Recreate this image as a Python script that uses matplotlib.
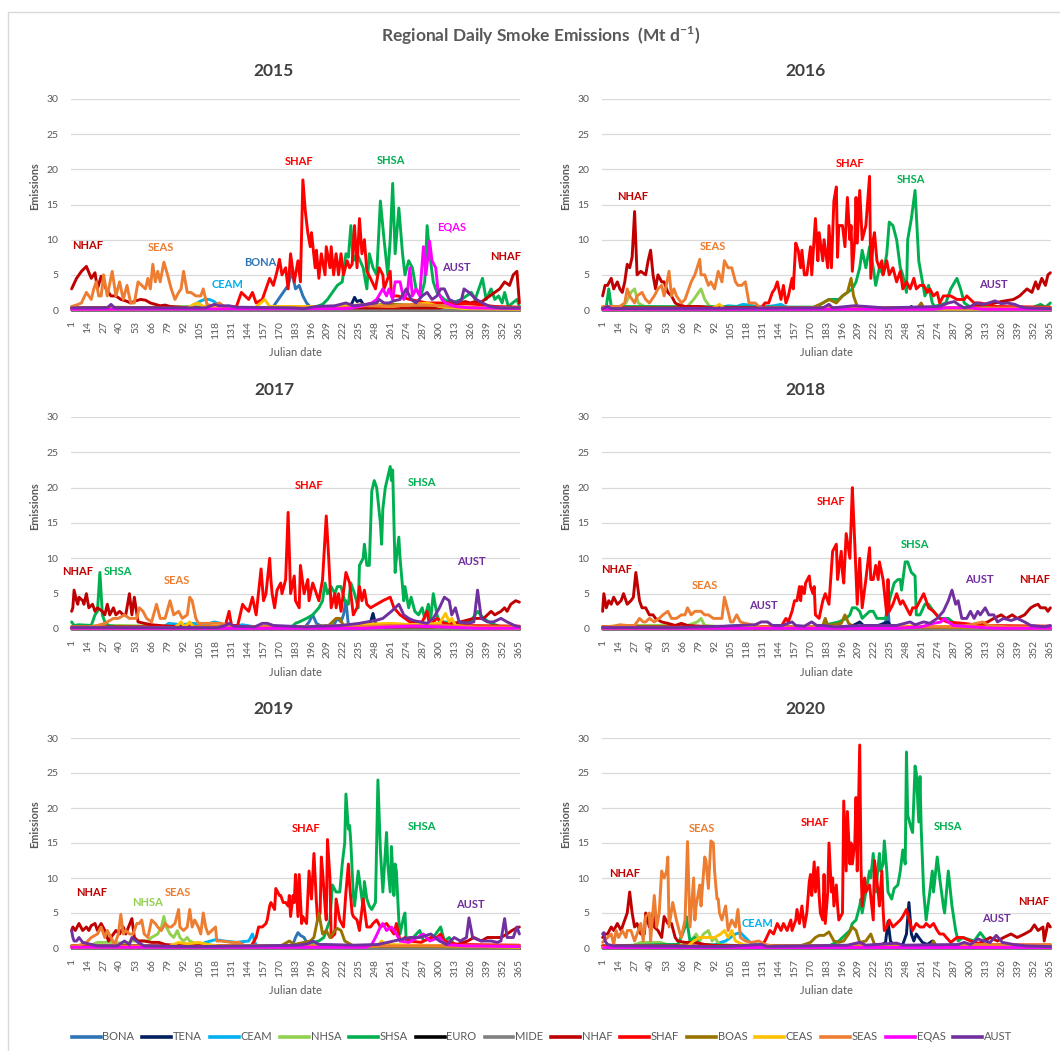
import matplotlib
matplotlib.use("Agg")
import matplotlib.pyplot as plt
from matplotlib.lines import Line2D

plt.rcParams['font.family'] = ['Lato', 'DejaVu Sans']

# ---------------- categories ----------------
NAMES = ["BONA", "TENA", "CEAM", "NHSA", "SHSA", "EURO", "MIDE",
         "NHAF", "SHAF", "BOAS", "CEAS", "SEAS", "EQAS", "AUST"]
COLORS = ["#2E75B6", "#002060", "#00B0F0", "#92D050", "#00B050", "#000000", "#808080",
          "#C00000", "#FF0000", "#997300", "#FFC000", "#ED7D31", "#FF00FF", "#7030A0"]
XTICKS = [1, 14, 27, 40, 53, 66, 79, 92, 105, 118, 131, 144, 157, 170, 183, 196, 209,
          222, 235, 248, 261, 274, 287, 300, 313, 326, 339, 352, 365]
YEARS = [2015, 2016, 2017, 2018, 2019, 2020]

# ---------------- data: (julian day, emissions) ----------------
# ---- 2015 ----
BONA_2015 = [(1,0.1),(160,0.1),(165,0.5),(169,1.5),(173,2.5),(177,3.5),(180,5.5),(183,3.0),(186,3.5),(189,2.0),(192,1.0),(196,0.3),(200,0.1),(365,0.1)]
TENA_2015 = [(1,0.05),(225,0.1),(229,1.0),(231,1.8),(233,1.2),(236,1.4),(239,0.5),(243,0.2),(365,0.05)]
CEAM_2015 = [(1,0.1),(97,0.2),(101,0.8),(105,1.2),(109,1.5),(113,1.5),(117,1.2),(121,0.5),(125,0.2),(365,0.1)]
NHSA_2015 = [(1,0.3),(40,0.4),(60,0.3),(100,0.5),(120,0.2),(365,0.1)]
SHSA_2015 = [(1,0.3),(100,0.4),(150,0.3),(200,0.5),(205,0.8),(209,1.5),(213,2.5),(217,3.5),(221,4.0),(224,8.0),(226,7.5),(228,12.0),(230,7.0),(233,8.0),(238,6.0),(241,3.0),(243,8.0),(246,6.0),(249,5.0),(252,15.5),(255,10.0),(258,5.0),(260,10.0),(262,18.0),(264,8.0),(267,14.5),(270,8.0),(272,5.0),(275,7.0),(278,6.0),(281,3.0),(285,2.0),(288,4.0),(290,12.0),(292,8.0),(295,4.0),(298,2.5),(301,2.0),(304,1.5),(310,1.0),(318,1.5),(326,2.5),(329,1.5),(335,4.5),(338,1.5),(342,3.0),(345,1.5),(348,2.0),(351,1.0),(353,2.5),(356,0.5),(363,1.5),(365,0.5)]
EURO_2015 = [(1,0.05),(365,0.05)]
MIDE_2015 = [(1,0.05),(365,0.05)]
NHAF_2015 = [(1,3.0),(5,4.5),(9,5.5),(13,6.2),(17,4.5),(20,5.3),(22,3.0),(25,4.8),(29,3.0),(33,2.0),(37,2.0),(41,1.5),(45,1.3),(49,1.0),(53,1.3),(57,1.5),(61,1.4),(65,1.0),(69,0.8),(73,0.6),(77,0.7),(81,0.5),(89,0.4),(97,0.3),(300,0.3),(305,0.5),(309,0.6),(313,0.8),(317,1.0),(321,1.2),(325,1.0),(329,1.2),(333,1.0),(337,1.5),(341,2.0),(345,2.5),(349,3.0),(353,4.0),(357,3.5),(360,5.0),(363,5.5),(365,1.0)]
SHAF_2015 = [(1,0.3),(130,0.3),(135,0.5),(139,2.5),(142,2.0),(145,1.5),(148,2.5),(151,1.0),(156,1.5),(159,3.0),(162,4.5),(165,3.5),(168,5.5),(170,7.2),(172,5.0),(175,6.0),(177,3.0),(179,8.0),(182,4.0),(185,7.0),(187,4.0),(189,18.5),(191,14.0),(193,11.0),(195,9.0),(196,11.0),(199,6.0),(200,8.5),(202,4.5),(204,8.0),(207,5.0),(208,9.0),(211,6.0),(212,9.0),(214,5.0),(216,8.0),(218,5.0),(220,8.0),(222,5.0),(225,7.0),(227,6.0),(229,6.5),(231,12.0),(233,6.0),(235,13.0),(237,8.0),(239,10.0),(241,5.5),(244,4.5),(248,3.0),(251,6.0),(254,5.0),(255,3.0),(260,5.5),(261,2.0),(266,2.0),(276,1.5),(290,1.0),(310,1.0),(330,0.8),(345,0.5),(365,0.4)]
BOAS_2015 = [(1,0.2),(150,0.3),(200,0.4),(260,0.8),(300,0.6),(330,0.3),(365,0.2)]
CEAS_2015 = [(1,0.1),(95,0.2),(100,0.8),(104,1.0),(108,0.5),(150,0.3),(158,1.5),(162,0.5),(220,0.5),(240,0.8),(260,0.5),(280,0.8),(290,1.0),(300,0.5),(320,0.2),(365,0.1)]
SEAS_2015 = [(1,0.5),(5,0.7),(9,1.0),(13,2.5),(17,1.5),(19,3.0),(21,4.0),(23,2.0),(25,2.0),(27,5.0),(30,2.0),(34,5.5),(37,2.0),(40,4.0),(43,1.5),(46,3.5),(49,1.0),(52,1.0),(55,4.0),(58,3.5),(61,3.0),(63,4.5),(65,3.0),(67,6.5),(69,4.0),(71,5.5),(73,4.0),(76,6.8),(79,5.0),(82,3.0),(85,1.5),(88,2.5),(90,3.0),(92,5.5),(95,2.5),(98,2.5),(102,2.0),(106,2.0),(108,3.0),(111,0.8),(115,0.6),(121,1.0),(125,0.5),(130,0.3),(220,0.3),(240,0.6),(260,0.5),(280,0.8),(300,0.6),(320,0.4),(365,0.3)]
EQAS_2015 = [(1,0.1),(225,0.2),(235,0.5),(245,1.0),(249,1.5),(254,3.0),(257,2.0),(259,3.0),(262,1.5),(264,4.0),(268,4.0),(271,1.5),(274,2.5),(276,6.0),(278,2.0),(281,3.0),(284,2.0),(287,9.0),(289,5.0),(292,9.8),(294,7.0),(297,6.0),(299,2.5),(302,1.5),(305,1.0),(313,0.5),(325,0.3),(365,0.2)]
AUST_2015 = [(1,0.3),(30,0.3),(33,0.8),(36,0.3),(110,0.3),(117,0.8),(121,0.6),(129,0.6),(135,0.4),(180,0.3),(190,0.2),(200,0.5),(215,0.6),(224,1.0),(230,0.6),(240,0.8),(249,1.0),(251,1.5),(255,1.0),(259,1.0),(263,1.3),(268,1.5),(273,3.0),(277,1.5),(281,1.0),(286,2.0),(290,2.5),(294,1.5),(298,2.0),(301,3.0),(304,3.0),(308,1.5),(314,1.0),(318,1.5),(320,3.0),(324,2.5),(330,1.5),(335,1.0),(341,0.5),(350,0.3),(365,0.3)]

# ---- 2016 ----
BONA_2016 = [(1,0.1),(365,0.1)]
TENA_2016 = [(1,0.05),(250,0.1),(252,0.5),(254,0.1),(365,0.05)]
CEAM_2016 = [(1,0.1),(95,0.2),(103,0.6),(110,0.5),(115,0.8),(120,0.7),(130,0.4),(140,0.6),(146,0.8),(150,0.4),(160,0.2),(365,0.1)]
NHSA_2016 = [(1,0.3),(15,0.5),(20,1.0),(24,2.5),(27,3.0),(30,1.0),(35,0.5),(50,0.4),(70,0.5),(75,1.5),(79,2.5),(81,3.0),(84,1.5),(88,0.5),(100,0.3),(365,0.1)]
SHSA_2016 = [(1,0.3),(4,0.5),(6,3.0),(8,0.5),(175,0.4),(180,1.0),(185,1.5),(193,1.5),(196,2.0),(204,3.0),(207,4.0),(210,6.0),(212,8.5),(215,6.0),(218,9.0),(221,6.0),(223,3.5),(226,6.0),(229,5.0),(232,8.0),(234,12.5),(237,12.0),(240,10.0),(243,6.0),(245,5.0),(248,2.5),(249,10.0),(252,13.0),(255,17.0),(258,7.0),(260,5.0),(263,2.0),(266,3.5),(269,1.0),(271,0.5),(280,1.0),(284,3.0),(289,4.5),(292,3.0),(295,1.0),(300,0.4),(350,0.3),(357,0.8),(361,0.4),(365,1.0)]
EURO_2016 = [(1,0.05),(365,0.05)]
MIDE_2016 = [(1,0.05),(365,0.05)]
NHAF_2016 = [(1,2.0),(3,3.5),(5,3.5),(8,4.5),(10,3.0),(13,4.0),(15,3.0),(17,2.5),(19,4.0),(21,6.5),(23,6.0),(25,7.5),(27,14.0),(29,5.0),(32,5.5),(36,5.0),(38,7.0),(40,8.5),(42,5.0),(44,3.0),(46,5.0),(49,4.0),(51,4.0),(54,2.5),(57,2.0),(60,1.0),(62,0.8),(68,0.5),(80,0.5),(90,0.3),(295,0.3),(305,0.6),(315,0.8),(325,1.2),(335,1.5),(340,2.0),(343,2.5),(346,3.0),(350,2.5),(353,4.0),(355,3.0),(358,4.5),(361,3.5),(363,5.0),(365,5.3)]
SHAF_2016 = [(1,0.3),(130,0.3),(133,1.0),(136,1.0),(139,2.5),(141,3.0),(143,4.0),(146,1.5),(148,3.5),(150,1.0),(152,2.0),(155,4.5),(156,3.0),(158,9.5),(160,8.5),(162,6.0),(163,8.5),(165,5.0),(167,5.0),(170,9.0),(171,5.0),(174,13.0),(176,7.0),(177,11.0),(180,7.0),(181,10.0),(184,6.0),(185,12.0),(187,6.0),(189,15.5),(191,17.5),(192,7.5),(193,12.0),(196,12.0),(198,9.0),(200,16.0),(202,10.0),(203,12.0),(204,5.5),(206,10.0),(207,16.0),(208,9.5),(210,17.0),(212,10.0),(215,12.0),(218,19.0),(219,4.5),(221,10.0),(222,11.0),(224,7.0),(226,6.0),(228,7.0),(229,5.0),(232,7.0),(234,5.0),(237,6.0),(240,4.0),(243,5.5),(245,3.0),(248,4.0),(251,3.0),(254,4.5),(256,3.0),(259,3.5),(262,3.5),(265,2.5),(267,3.0),(270,2.0),(273,2.5),(275,1.0),(278,2.0),(284,2.0),(289,1.5),(295,1.5),(297,2.0),(303,1.0),(308,1.0),(320,0.5),(365,0.4)]
BOAS_2016 = [(1,0.1),(170,0.2),(180,1.0),(185,1.5),(191,1.0),(196,2.0),(200,2.5),(203,4.5),(205,2.0),(208,0.5),(215,0.3),(257,0.3),(260,1.0),(262,0.3),(365,0.1)]
CEAS_2016 = [(1,0.1),(90,0.2),(96,0.8),(100,0.2),(365,0.1)]
SEAS_2016 = [(1,0.5),(15,0.5),(19,1.0),(21,3.0),(23,2.0),(27,1.0),(29,2.0),(33,2.5),(36,1.5),(39,1.0),(43,2.0),(46,3.0),(49,3.5),(51,2.0),(55,5.5),(57,2.0),(59,3.0),(61,2.0),(65,1.0),(68,1.5),(70,2.5),(73,4.0),(76,5.0),(80,7.2),(81,5.0),(84,5.0),(87,3.5),(89,4.0),(92,3.0),(95,5.5),(98,4.0),(100,7.0),(103,6.0),(106,6.0),(109,4.0),(111,3.5),(114,3.5),(117,4.0),(120,1.0),(125,1.0),(128,0.5),(131,0.3),(365,0.3)]
EQAS_2016 = [(1,0.1),(270,0.1),(280,0.3),(300,0.3),(310,0.1),(365,0.1)]
AUST_2016 = [(1,0.2),(5,0.5),(8,0.2),(180,0.3),(185,0.8),(188,0.3),(205,0.6),(215,0.5),(230,0.3),(275,0.5),(282,1.0),(287,1.2),(290,0.8),(295,0.3),(300,0.5),(305,1.0),(310,0.8),(315,1.0),(320,1.3),(325,0.9),(330,1.0),(336,0.8),(340,0.5),(345,0.3),(365,0.2)]

# ---- 2017 ----
BONA_2017 = [(1,0.1),(190,0.1),(194,1.0),(197,2.0),(200,0.8),(205,0.3),(214,0.5),(217,1.5),(220,1.0),(222,2.0),(224,4.0),(226,0.5),(230,0.1),(365,0.1)]
TENA_2017 = [(1,0.05),(240,0.1),(244,1.0),(246,2.2),(248,0.8),(252,0.2),(365,0.05)]
CEAM_2017 = [(1,0.1),(75,0.2),(80,0.8),(90,0.6),(100,0.8),(110,0.6),(117,1.0),(122,0.8),(130,0.3),(140,0.6),(150,0.3),(365,0.1)]
NHSA_2017 = [(1,0.3),(40,0.5),(70,0.4),(100,0.3),(365,0.1)]
SHSA_2017 = [(1,1.0),(3,0.5),(7,0.6),(17,0.5),(20,2.0),(22,2.5),(24,8.0),(26,2.0),(28,1.0),(31,0.5),(40,0.3),(180,0.3),(183,0.8),(186,1.0),(192,1.5),(197,2.0),(202,3.0),(205,4.0),(207,6.5),(209,5.0),(212,6.0),(215,5.0),(217,6.0),(220,6.0),(223,4.0),(226,3.5),(228,6.5),(231,5.0),(234,3.0),(235,9.0),(238,10.0),(239,12.0),(241,9.0),(243,9.0),(245,19.5),(247,21.0),(249,20.0),(252,15.0),(253,12.0),(254,17.0),(256,20.0),(258,21.5),(260,23.0),(261,21.0),(262,22.5),(264,8.0),(265,10.0),(267,13.0),(268,10.0),(271,4.0),(272,6.0),(275,3.0),(277,4.5),(280,2.5),(283,2.0),(286,3.0),(288,1.5),(291,3.5),(293,1.5),(295,5.0),(298,2.0),(300,1.0),(304,1.0),(312,0.8),(325,1.0),(331,2.5),(336,1.5),(342,0.8),(350,0.3),(365,0.3)]
EURO_2017 = [(1,0.05),(365,0.05)]
MIDE_2017 = [(1,0.05),(365,0.05)]
NHAF_2017 = [(1,2.5),(2,3.0),(3,5.5),(5,4.0),(6,3.5),(7,4.5),(10,4.0),(11,3.5),(13,5.0),(15,3.0),(18,3.5),(20,2.5),(22,3.0),(26,2.5),(28,2.0),(30,3.5),(32,2.0),(35,3.0),(37,2.0),(40,2.5),(43,2.0),(45,2.0),(48,5.0),(50,2.0),(52,4.5),(55,1.0),(60,0.8),(66,0.6),(72,0.5),(80,0.4),(95,0.3),(295,0.3),(304,0.5),(317,1.0),(328,1.5),(336,1.5),(342,2.5),(345,2.0),(350,2.5),(353,3.0),(355,2.5),(358,3.5),(362,4.0),(365,3.8)]
SHAF_2017 = [(1,0.3),(124,0.3),(126,0.5),(129,2.5),(131,0.5),(136,0.5),(140,3.5),(142,3.0),(145,2.5),(148,4.5),(151,2.0),(155,8.5),(157,4.0),(159,5.0),(162,10.0),(163,7.0),(164,5.0),(166,3.0),(168,5.5),(171,6.5),(172,5.0),(175,7.0),(177,16.5),(179,5.0),(182,7.5),(183,4.0),(186,3.0),(187,9.0),(190,5.0),(193,7.0),(194,4.0),(197,6.5),(200,5.0),(202,4.0),(205,7.0),(208,16.0),(210,10.0),(212,3.0),(215,5.0),(216,3.0),(218,5.0),(220,2.5),(224,8.0),(227,6.5),(230,2.0),(233,3.0),(235,6.0),(237,4.0),(239,5.5),(241,3.5),(244,3.0),(249,3.5),(254,4.0),(260,4.5),(263,3.0),(268,2.0),(276,1.0),(286,1.0),(290,2.5),(292,0.5),(298,1.5),(304,0.8),(315,0.5),(365,0.4)]
BOAS_2017 = [(1,0.1),(180,0.2),(210,0.5),(216,1.5),(219,1.5),(222,0.5),(260,0.5),(300,0.3),(365,0.1)]
CEAS_2017 = [(1,0.1),(85,0.2),(90,1.0),(93,0.3),(97,1.0),(100,0.3),(200,0.3),(230,0.6),(260,0.8),(280,0.6),(300,0.8),(305,2.2),(308,1.0),(310,1.5),(313,0.5),(330,0.2),(365,0.1)]
SEAS_2017 = [(1,0.3),(15,0.3),(22,0.5),(28,0.8),(35,1.5),(39,1.5),(44,2.0),(48,1.5),(54,1.5),(56,3.0),(59,2.5),(62,1.5),(66,1.0),(70,3.5),(73,1.5),(77,1.5),(81,4.0),(84,2.0),(88,2.5),(91,1.5),(95,2.0),(97,4.5),(99,4.0),(102,1.5),(104,0.8),(115,0.8),(123,0.8),(128,0.4),(135,0.3),(230,0.3),(260,0.5),(300,0.5),(330,0.3),(365,0.3)]
EQAS_2017 = [(1,0.1),(240,0.1),(260,0.3),(280,0.4),(300,0.3),(330,0.1),(365,0.1)]
AUST_2017 = [(1,0.2),(120,0.2),(126,0.5),(129,0.8),(133,0.4),(150,0.3),(156,0.8),(160,0.8),(165,0.5),(190,0.3),(220,0.5),(235,0.8),(241,1.0),(248,1.2),(254,1.5),(261,2.5),(267,3.5),(271,2.0),(275,1.5),(279,1.2),(284,1.0),(290,0.8),(295,1.5),(300,3.0),(304,4.5),(308,4.0),(310,2.0),(313,3.0),(316,1.0),(323,0.8),(328,1.0),(331,5.5),(334,1.5),(339,1.0),(344,1.0),(350,1.5),(355,1.0),(361,0.5),(365,0.3)]

# ---- 2018 ----
BONA_2018 = [(1,0.1),(225,0.1),(231,1.0),(233,3.5),(234,0.3),(240,0.1),(365,0.1)]
TENA_2018 = [(1,0.05),(200,0.1),(208,0.8),(210,1.0),(213,0.5),(225,0.5),(230,0.8),(233,1.0),(236,0.2),(365,0.05)]
CEAM_2018 = [(1,0.1),(90,0.2),(110,0.5),(130,0.3),(365,0.1)]
NHSA_2018 = [(1,0.3),(20,0.5),(40,0.5),(70,0.5),(78,1.0),(81,1.5),(84,0.5),(100,0.3),(365,0.1)]
SHSA_2018 = [(1,0.3),(175,0.3),(180,0.5),(193,1.0),(199,1.5),(202,2.0),(204,3.0),(207,3.0),(210,2.5),(212,1.5),(215,2.0),(218,2.5),(221,2.5),(224,1.5),(231,1.5),(234,4.0),(238,6.5),(241,7.0),(243,7.0),(244,5.5),(247,9.5),(249,9.5),(252,8.0),(255,7.5),(256,2.0),(259,2.0),(263,3.5),(266,3.5),(270,2.5),(275,1.5),(282,1.5),(289,0.5),(300,0.3),(365,0.3)]
EURO_2018 = [(1,0.05),(365,0.05)]
MIDE_2018 = [(1,0.05),(365,0.05)]
NHAF_2018 = [(1,2.5),(2,5.0),(4,3.0),(6,4.0),(8,3.5),(10,4.5),(13,3.5),(16,4.0),(18,5.0),(21,3.5),(24,4.0),(26,4.5),(28,8.0),(31,4.0),(33,3.0),(36,3.0),(39,2.0),(42,2.0),(44,1.5),(49,1.0),(54,0.8),(60,0.5),(65,0.8),(70,0.5),(80,0.4),(95,0.3),(300,0.3),(308,0.6),(314,1.0),(319,1.5),(325,2.0),(329,1.5),(334,2.0),(338,1.5),(344,2.0),(349,3.0),(352,3.3),(355,3.5),(357,3.0),(361,3.0),(363,2.5),(365,3.0)]
SHAF_2018 = [(1,0.3),(146,0.3),(150,1.5),(152,1.0),(155,2.5),(157,4.0),(159,4.0),(161,6.0),(162,4.0),(163,6.0),(165,5.0),(166,6.5),(169,7.5),(170,6.0),(172,5.0),(173,6.0),(174,2.0),(177,1.5),(180,4.0),(182,5.0),(185,3.5),(188,11.0),(191,12.0),(192,7.0),(195,11.0),(196,8.0),(197,6.5),(199,13.5),(202,10.0),(203,15.0),(204,20.0),(206,12.0),(208,3.5),(210,10.0),(212,3.0),(215,7.0),(218,11.5),(219,7.0),(221,7.0),(223,9.0),(225,7.0),(226,9.5),(229,7.0),(232,2.0),(233,7.0),(234,2.5),(237,3.5),(240,5.0),(243,3.5),(245,4.0),(248,3.0),(251,2.0),(253,3.0),(256,3.0),(259,4.0),(262,5.0),(266,3.0),(270,2.5),(275,1.5),(281,1.0),(294,0.8),(308,0.5),(365,0.4)]
BOAS_2018 = [(1,0.1),(175,0.2),(180,0.5),(182,1.5),(184,0.5),(195,0.8),(198,2.0),(201,0.8),(205,0.3),(240,0.3),(300,0.2),(365,0.1)]
CEAS_2018 = [(1,0.1),(100,0.2),(200,0.3),(250,0.4),(300,0.3),(365,0.1)]
SEAS_2018 = [(1,0.3),(10,0.4),(15,0.6),(21,0.5),(27,0.5),(31,1.5),(34,1.0),(36,1.0),(39,1.5),(43,1.0),(47,1.5),(50,2.0),(54,2.5),(57,1.5),(61,1.5),(65,2.0),(68,2.0),(70,3.0),(73,2.0),(76,2.5),(79,2.5),(81,2.5),(84,2.0),(87,2.0),(91,1.5),(94,1.5),(98,1.5),(100,4.5),(103,2.5),(105,1.0),(107,1.0),(110,2.0),(113,1.0),(117,0.8),(125,0.5),(130,0.3),(290,0.3),(300,0.6),(310,1.0),(315,0.5),(330,0.3),(365,0.3)]
EQAS_2018 = [(1,0.1),(240,0.1),(260,0.3),(270,0.8),(276,1.0),(279,1.5),(282,1.0),(286,0.5),(300,0.3),(320,0.1),(365,0.1)]
AUST_2018 = [(1,0.2),(60,0.2),(100,0.4),(125,0.6),(130,1.0),(135,1.0),(139,0.5),(147,0.5),(155,1.0),(158,0.5),(165,0.4),(171,1.0),(175,0.5),(180,0.5),(190,0.3),(212,0.5),(240,0.5),(251,1.0),(255,0.6),(262,1.0),(267,0.8),(273,1.5),(278,2.5),(282,4.0),(285,5.5),(288,3.5),(290,4.0),(293,1.5),(297,1.5),(300,2.5),(303,1.5),(306,2.5),(308,2.0),(312,3.0),(315,2.0),(319,2.0),(322,1.0),(327,1.5),(333,1.2),(338,1.5),(344,1.0),(349,0.5),(360,0.3),(365,0.5)]

# ---- 2019 ----
BONA_2019 = [(1,0.1),(180,0.1),(183,1.5),(185,2.2),(187,1.8),(190,1.5),(193,0.5),(200,0.1),(365,0.1)]
TENA_2019 = [(1,0.05),(365,0.05)]
CEAM_2019 = [(1,0.1),(100,0.2),(110,0.8),(118,1.2),(125,1.0),(135,0.8),(145,1.0),(148,2.0),(151,0.3),(365,0.1)]
NHSA_2019 = [(1,0.3),(15,0.3),(22,0.8),(36,0.8),(45,0.6),(50,1.0),(63,1.0),(66,1.5),(71,2.0),(74,3.0),(76,4.5),(78,3.0),(81,2.0),(84,1.5),(87,2.5),(89,1.5),(92,1.0),(95,1.5),(97,1.0),(104,0.5),(115,0.3),(365,0.1)]
SHSA_2019 = [(1,0.3),(180,0.3),(192,0.5),(197,0.8),(202,1.0),(206,1.5),(209,3.0),(211,4.0),(213,9.0),(216,8.0),(219,8.0),(221,12.0),(223,15.0),(224,22.0),(226,17.0),(227,17.5),(228,15.0),(230,7.5),(231,6.0),(234,11.0),(237,7.0),(238,6.0),(239,9.5),(241,7.0),(243,6.0),(245,5.5),(248,6.5),(250,24.0),(252,14.0),(254,8.0),(257,16.5),(258,12.0),(260,8.0),(261,14.5),(263,7.5),(264,12.0),(265,11.0),(267,4.0),(268,2.0),(271,4.5),(272,5.0),(273,1.0),(276,1.0),(284,2.5),(287,1.0),(295,1.5),(301,3.0),(304,1.0),(308,1.5),(312,0.5),(320,0.3),(365,0.3)]
EURO_2019 = [(1,0.05),(365,0.05)]
MIDE_2019 = [(1,0.05),(365,0.05)]
NHAF_2019 = [(1,2.5),(2,3.0),(4,2.5),(7,3.5),(10,2.5),(13,3.0),(15,2.5),(17,3.2),(20,3.5),(22,2.5),(25,3.5),(28,2.5),(31,1.0),(35,2.0),(37,2.5),(40,2.0),(43,3.0),(45,2.0),(50,4.2),(52,1.5),(55,1.0),(60,1.0),(66,0.8),(72,0.8),(77,0.5),(90,0.3),(310,0.3),(316,0.6),(323,1.0),(328,1.5),(334,1.0),(339,1.5),(350,1.5),(355,2.0),(359,2.5),(362,2.8),(365,3.0)]
SHAF_2019 = [(1,0.3),(147,0.3),(151,1.5),(153,3.0),(156,3.0),(159,3.5),(160,4.0),(162,6.0),(163,6.5),(166,5.5),(167,8.5),(170,7.5),(171,7.5),(173,6.5),(175,6.5),(177,6.0),(178,7.5),(179,4.5),(181,7.5),(182,6.5),(183,10.5),(185,4.5),(186,10.5),(188,3.5),(189,4.5),(192,3.5),(194,11.0),(196,7.0),(198,13.5),(200,6.5),(201,4.0),(203,5.0),(204,13.0),(205,11.0),(207,6.0),(208,4.0),(209,15.5),(211,10.0),(212,1.5),(215,2.0),(216,7.0),(219,4.0),(222,3.0),(224,8.0),(226,12.0),(227,9.0),(229,5.0),(230,4.5),(233,4.0),(235,2.5),(238,7.0),(241,3.0),(244,3.0),(246,3.5),(249,4.0),(252,3.0),(257,3.5),(263,2.0),(265,3.5),(268,1.0),(272,1.5),(276,1.0),(285,0.8),(293,1.5),(298,1.5),(301,2.0),(304,1.0),(315,0.5),(365,0.4)]
BOAS_2019 = [(1,0.1),(170,0.2),(178,1.0),(182,0.5),(195,1.0),(198,1.5),(202,5.0),(205,2.0),(208,2.5),(211,1.5),(215,2.5),(217,2.8),(220,2.5),(223,1.0),(230,0.3),(365,0.1)]
CEAS_2019 = [(1,0.1),(80,0.2),(88,0.8),(95,0.6),(104,0.8),(112,0.5),(120,0.3),(250,0.3),(253,1.0),(256,0.5),(365,0.1)]
SEAS_2019 = [(1,0.3),(5,0.3),(9,0.5),(13,0.8),(17,1.5),(22,2.0),(25,3.0),(28,1.5),(30,2.5),(33,1.5),(36,0.5),(39,2.0),(41,4.8),(43,2.0),(45,2.5),(48,2.0),(51,2.0),(54,3.5),(56,3.5),(58,4.0),(60,2.0),(63,1.5),(66,4.0),(69,3.5),(71,3.0),(74,2.5),(77,3.5),(80,3.0),(82,3.0),(85,3.5),(88,5.5),(89,3.0),(92,2.5),(95,3.0),(97,5.5),(99,3.0),(101,4.0),(104,3.0),(106,2.0),(108,5.0),(110,3.0),(112,2.0),(115,2.5),(118,3.0),(119,1.0),(123,1.0),(131,0.8),(137,0.8),(142,0.3),(365,0.3)]
EQAS_2019 = [(1,0.1),(240,0.1),(245,0.5),(248,1.5),(252,3.0),(254,3.5),(257,2.5),(261,3.0),(265,2.0),(268,1.0),(275,0.8),(282,1.5),(287,2.0),(292,1.0),(300,1.5),(305,0.5),(320,0.3),(365,0.2)]
AUST_2019 = [(1,2.5),(2,1.5),(3,1.0),(5,1.0),(7,1.5),(10,0.8),(17,0.5),(22,0.3),(38,0.3),(44,1.0),(48,0.5),(50,1.5),(55,0.8),(60,0.3),(100,0.2),(150,0.3),(185,0.4),(193,0.6),(197,1.0),(202,0.5),(208,0.5),(230,0.4),(250,0.5),(263,1.0),(268,1.2),(276,1.5),(284,1.5),(293,2.0),(300,1.0),(306,0.5),(312,1.5),(317,1.0),(322,1.5),(324,4.3),(327,1.5),(334,1.0),(342,1.0),(347,0.8),(350,1.0),(353,4.2),(355,1.5),(360,1.5),(363,3.0),(365,2.0)]

# ---- 2020 ----
BONA_2020 = [(1,0.1),(365,0.1)]
TENA_2020 = [(1,0.05),(225,0.1),(231,0.8),(233,3.8),(235,1.0),(238,0.3),(245,0.5),(248,2.0),(250,6.5),(252,2.0),(254,1.0),(256,2.0),(258,1.5),(261,0.8),(265,0.5),(269,1.0),(272,0.2),(365,0.05)]
CEAM_2020 = [(1,0.1),(90,0.3),(97,0.8),(101,1.0),(105,1.5),(109,2.0),(113,2.2),(117,1.5),(121,0.8),(125,0.5),(135,0.3),(365,0.1)]
NHSA_2020 = [(1,0.3),(25,0.3),(32,0.8),(40,0.8),(48,0.8),(55,0.4),(70,0.5),(75,1.5),(77,2.0),(80,1.0),(83,2.0),(87,2.5),(90,1.0),(92,1.5),(96,0.5),(110,0.3),(365,0.1)]
SHSA_2020 = [(1,0.3),(30,0.4),(50,0.5),(62,0.5),(66,2.0),(68,3.0),(69,4.5),(72,1.0),(76,1.5),(80,0.5),(120,0.3),(185,0.3),(193,1.0),(199,2.0),(202,2.5),(204,3.5),(207,4.0),(210,6.0),(211,7.0),(212,5.0),(215,8.0),(218,11.0),(219,10.0),(221,13.5),(223,8.0),(226,13.5),(227,11.0),(229,12.0),(230,15.3),(232,11.0),(233,8.0),(236,7.0),(238,8.5),(241,9.0),(243,11.0),(245,14.0),(247,12.0),(248,28.0),(249,19.0),(252,17.0),(253,16.5),(255,26.0),(256,25.0),(258,18.0),(259,24.5),(260,17.0),(262,8.0),(264,4.0),(267,8.0),(269,11.0),(270,8.0),(273,13.0),(275,10.0),(278,6.0),(279,5.0),(282,11.0),(285,6.0),(288,2.5),(290,1.0),(294,1.5),(303,1.0),(308,2.2),(311,1.5),(316,0.5),(330,0.3),(365,0.3)]
EURO_2020 = [(1,0.05),(365,0.05)]
MIDE_2020 = [(1,0.05),(365,0.05)]
NHAF_2020 = [(1,1.5),(3,2.0),(5,2.0),(8,3.0),(10,2.5),(13,3.5),(16,2.5),(19,4.0),(21,5.0),(23,8.0),(25,5.0),(27,3.0),(29,3.5),(32,2.0),(35,2.0),(36,5.0),(39,3.0),(42,5.0),(43,3.0),(46,2.5),(49,1.5),(51,4.5),(54,3.5),(57,3.5),(60,1.5),(62,1.0),(68,0.8),(76,0.8),(84,0.5),(95,0.3),(300,0.3),(306,0.6),(311,1.0),(316,1.5),(322,1.0),(327,1.5),(333,2.0),(338,1.5),(344,2.0),(349,2.5),(352,3.3),(355,2.5),(359,3.0),(360,1.0),(363,3.5),(365,3.0)]
SHAF_2020 = [(1,0.3),(130,0.3),(133,1.0),(137,2.5),(140,2.0),(143,3.5),(146,2.5),(148,3.5),(151,2.5),(154,4.0),(155,2.5),(158,4.0),(159,5.5),(161,3.5),(163,6.0),(165,3.0),(167,5.0),(169,9.5),(170,10.5),(171,7.5),(173,12.3),(174,8.0),(176,11.5),(177,7.5),(178,5.0),(180,4.0),(181,10.5),(182,3.5),(184,8.0),(185,15.0),(187,8.0),(188,10.0),(189,6.0),(191,9.0),(192,6.0),(193,4.0),(196,5.0),(197,21.0),(199,11.0),(200,19.5),(202,12.0),(203,15.0),(204,12.0),(206,15.0),(207,21.5),(208,11.0),(210,29.0),(211,12.0),(212,6.0),(214,10.0),(215,8.0),(218,9.0),(221,4.0),(222,12.5),(223,11.0),(225,8.0),(226,6.0),(228,11.0),(229,5.5),(230,2.5),(232,3.0),(234,4.0),(237,3.0),(240,3.5),(243,4.0),(245,4.5),(248,5.5),(251,3.5),(253,2.5),(256,3.5),(259,3.0),(262,3.0),(264,3.5),(267,3.0),(270,3.5),(273,2.5),(275,2.0),(278,2.0),(284,0.8),(289,1.5),(294,1.5),(300,1.0),(310,0.5),(365,0.4)]
BOAS_2020 = [(1,0.1),(160,0.2),(170,0.8),(174,1.5),(177,1.8),(181,1.8),(185,2.3),(189,1.0),(193,0.8),(197,1.0),(201,2.0),(204,3.0),(207,2.5),(210,0.8),(215,1.0),(219,2.0),(222,0.5),(230,0.3),(268,0.3),(270,1.0),(272,0.3),(365,0.1)]
CEAS_2020 = [(1,0.1),(70,0.2),(75,1.0),(80,1.5),(86,1.5),(92,1.5),(97,2.0),(100,2.5),(103,1.5),(106,2.5),(109,1.0),(115,0.5),(130,0.2),(365,0.1)]
SEAS_2020 = [(1,0.8),(2,1.0),(5,1.5),(8,2.0),(10,0.5),(12,2.5),(14,1.5),(17,2.5),(20,1.5),(21,2.5),(24,2.5),(27,1.0),(29,2.0),(32,3.5),(34,1.0),(36,4.5),(39,5.0),(40,1.0),(43,7.5),(45,3.0),(47,5.0),(49,11.0),(51,10.0),(53,11.0),(54,13.0),(55,3.0),(58,6.5),(61,4.0),(64,2.0),(65,1.5),(68,4.0),(70,15.2),(72,3.0),(75,10.0),(76,4.0),(77,6.0),(79,8.0),(80,9.0),(81,6.0),(84,13.0),(85,12.5),(87,8.5),(89,15.3),(91,15.0),(92,11.0),(94,7.0),(95,7.0),(96,5.0),(98,4.0),(101,6.0),(103,2.5),(106,4.0),(109,3.0),(111,5.5),(113,1.5),(117,1.0),(122,0.8),(128,1.0),(133,0.5),(140,0.3),(290,0.3),(300,0.5),(320,0.5),(340,0.4),(365,0.5)]
EQAS_2020 = [(1,0.1),(365,0.1)]
AUST_2020 = [(1,2.0),(2,2.2),(3,1.0),(5,0.5),(10,0.3),(100,0.2),(130,0.5),(135,0.2),(200,0.4),(210,0.8),(215,0.4),(240,0.7),(245,0.4),(290,0.5),(295,0.8),(300,0.5),(306,1.3),(311,1.0),(316,0.8),(321,1.8),(326,0.8),(335,0.5),(345,0.3),(365,0.2)]

# ---- in-chart region labels: (region, day, emissions) ----
LABELS_2015 = [("NHAF", 14, 9.1), ("SEAS", 74, 8.9), ("BONA", 154, 6.7), ("CEAM", 128, 3.6),
               ("SHAF", 186, 21.1), ("SHSA", 261, 21.2), ("EQAS", 310, 11.8), ("AUST", 314, 6.0),
               ("NHAF", 354, 7.6)]
LABELS_2016 = [("NHAF", 25, 16.1), ("SEAS", 91, 9.0), ("SHAF", 202, 20.9), ("SHSA", 252, 18.5),
               ("AUST", 319, 3.6)]
LABELS_2017 = [("NHAF", 6, 8.1), ("SHSA", 39, 8.1), ("SEAS", 87, 6.8), ("SHAF", 194, 20.3),
               ("SHSA", 286, 20.8), ("AUST", 326, 9.5)]
LABELS_2018 = [("NHAF", 12.5, 8.4), ("SEAS", 84, 6.1), ("AUST", 132, 3.3), ("SHAF", 187, 18.0),
               ("SHSA", 255, 11.9), ("AUST", 307, 7.0), ("NHAF", 352, 7.0)]
LABELS_2019 = [("NHAF", 17.6, 7.9), ("NHSA", 62.7, 6.5), ("SEAS", 87.8, 7.9), ("SHAF", 192, 17.1),
               ("SHSA", 285.5, 17.4), ("AUST", 325, 6.2)]
LABELS_2020 = [("NHAF", 18.5, 10.6), ("SEAS", 82, 17.0), ("CEAM", 126.7, 3.5), ("SHAF", 174, 17.9),
               ("SHSA", 282, 17.4), ("AUST", 321, 4.2), ("NHAF", 351, 6.6)]

TITLE = "Regional Daily Smoke Emissions  (Mt d$^{\\mathregular{-1}}$)"

# ---------------- build ----------------
g = globals()
DATA = {y: {n: g[f"{n}_{y}"] for n in NAMES} for y in YEARS}
LABELS = {y: g[f"LABELS_{y}"] for y in YEARS}
COLOR_OF = dict(zip(NAMES, COLORS))

W, H = 1060, 1051
fig = plt.figure(figsize=(W / 100, H / 100), dpi=100)
fig.patch.set_facecolor("white")

GRAY = "#595959"
# chart border (top and left edges of the chart area)
fig.add_artist(Line2D([8 / W, 8 / W, 1.0], [0.0, 1 - 12 / H, 1 - 12 / H],
                      transform=fig.transFigure, color="#D9D9D9", lw=1.0))

fig.text(541 / W, 1 - 36 / H, TITLE, ha="center", va="center", fontsize=12.5,
         fontweight="bold", color=GRAY)

col_left = {0: 71, 1: 602}
rows = {0: (99, 310), 1: (417, 629), 2: (738, 948)}
title_y = {0: 71, 1: 390, 2: 709}
ylab_y = {0: 186, 1: 506, 2: 824}
xlab_y = {0: 353, 1: 672, 2: 990}
AXW = 449

for k, year in enumerate(YEARS):
    r, c = divmod(k, 2)
    top, bot = rows[r]
    left = col_left[c]
    ax = fig.add_axes([left / W, 1 - bot / H, AXW / W, (bot - top) / H])
    for name in NAMES:
        d, v = zip(*DATA[year][name])
        ax.plot(d, v, color=COLOR_OF[name], lw=2.1, solid_joinstyle="round",
                solid_capstyle="round", clip_on=False)
    for name, x, y in LABELS[year]:
        ax.text(x, y, name, color=COLOR_OF[name], fontsize=8, fontweight="bold",
                ha="center", va="center", clip_on=False)
    ax.set_xlim(0.5, 365.5)
    ax.set_ylim(0, 30)
    ax.set_yticks(range(0, 31, 5))
    ax.set_xticks(XTICKS)
    ax.set_xticklabels([str(t) for t in XTICKS], rotation=90)
    ax.tick_params(axis="both", length=0, labelsize=7.5, labelcolor=GRAY)
    ax.tick_params(axis="x", pad=8)
    ax.tick_params(axis="y", pad=9)
    ax.grid(axis="y", color="#D9D9D9", lw=0.9)
    ax.set_axisbelow(True)
    for s in ax.spines.values():
        s.set_visible(False)
    cx = left - 71 + 274
    fig.text(cx / W, 1 - title_y[r] / H, str(year), ha="center", va="center",
             fontsize=12.5, fontweight="bold", color="#404040")
    fig.text((left - 71 + 35) / W, 1 - ylab_y[r] / H, "Emissions", rotation=90,
             ha="center", va="center", fontsize=7.8, fontweight="bold", color=GRAY)
    fig.text((left + AXW / 2) / W, 1 - xlab_y[r] / H, "Julian date", ha="center",
             va="center", fontsize=8, color=GRAY)

handles = [Line2D([], [], color=c, lw=2.6) for c in COLORS]
fig.legend(handles, NAMES, ncol=14, loc="center", bbox_to_anchor=(542 / W, 1 - 1037 / H),
           frameon=False, fontsize=8, handlelength=2.6, handletextpad=0.15,
           columnspacing=0.72, labelcolor=GRAY, borderpad=0, borderaxespad=0)

fig.savefig("out.png", dpi=100, facecolor="white")
